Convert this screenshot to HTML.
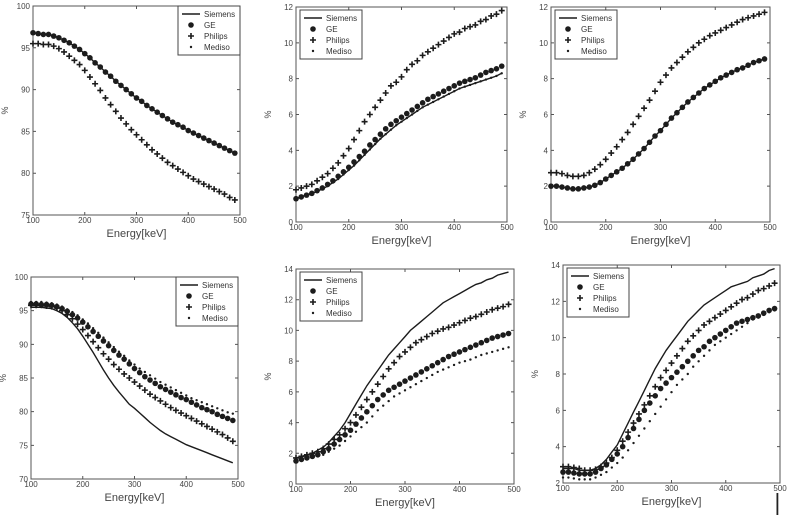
<!DOCTYPE html>
<html><head><meta charset="utf-8"><style>
html,body{margin:0;padding:0;background:#fff;}
svg{display:block;font-family:"Liberation Sans",sans-serif;}
</style></head><body>
<svg id="fig" width="799" height="521" viewBox="0 0 799 521" xmlns="http://www.w3.org/2000/svg">
<rect x="776.5" y="493" width="1.8" height="22" fill="#222"/>
</svg>
<script>
const energies=[100,110,120,130,140,150,160,170,180,190,200,210,220,230,240,250,260,270,280,290,300,310,320,330,340,350,360,370,380,390,400,410,420,430,440,450,460,470,480,490];
const xTicks=[100,200,300,400,500];
// Panel 1
const p1GE=[96.8,96.7,96.6,96.6,96.4,96.2,95.9,95.6,95.2,94.8,94.3,93.8,93.2,92.7,92.1,91.6,91.0,90.5,90.0,89.5,89.0,88.6,88.1,87.7,87.3,86.9,86.5,86.1,85.8,85.5,85.1,84.8,84.5,84.2,83.9,83.6,83.3,83.0,82.7,82.4];
const p1Siemens=[96.8,96.7,96.6,96.6,96.4,96.2,95.9,95.6,95.2,94.8,94.3,93.8,93.2,92.7,92.1,91.6,91.0,90.5,90.0,89.5,89.0,88.6,88.1,87.7,87.3,86.9,86.5,86.1,85.8,85.5,85.1,84.8,84.5,84.2,83.9,83.6,83.3,83.0,82.7,82.4];
const p1Mediso=[96.8,96.7,96.6,96.6,96.4,96.2,95.9,95.6,95.2,94.8,94.3,93.8,93.2,92.7,92.1,91.6,91.0,90.5,90.0,89.5,89.0,88.6,88.1,87.7,87.3,86.9,86.5,86.1,85.8,85.5,85.1,84.8,84.5,84.2,83.9,83.6,83.3,83.0,82.7,82.4];
const p1Philips=[95.5,95.5,95.4,95.4,95.2,94.9,94.5,94.0,93.5,93.0,92.3,91.5,90.7,89.9,89.0,88.2,87.4,86.6,85.9,85.2,84.6,84.0,83.4,82.8,82.3,81.8,81.3,80.9,80.5,80.1,79.7,79.3,79.0,78.7,78.4,78.1,77.8,77.5,77.1,76.8];
const p1YTicks=[75,80,85,90,95,100];
// Panel 2
const p2Philips=[1.8,1.9,2.0,2.1,2.3,2.5,2.7,3.0,3.3,3.7,4.1,4.6,5.1,5.6,6.0,6.4,6.8,7.2,7.6,7.8,8.1,8.5,8.8,9.0,9.3,9.5,9.7,9.9,10.1,10.3,10.5,10.6,10.8,10.9,11.0,11.2,11.3,11.5,11.6,11.8];
const p2GE=[1.3,1.4,1.5,1.6,1.75,1.9,2.1,2.3,2.55,2.8,3.05,3.35,3.65,3.95,4.3,4.6,4.9,5.2,5.45,5.65,5.85,6.05,6.25,6.45,6.65,6.85,7.0,7.15,7.3,7.45,7.6,7.75,7.85,7.95,8.05,8.2,8.35,8.45,8.55,8.7];
const p2Siemens=[1.3,1.4,1.5,1.6,1.7,1.85,2.0,2.2,2.4,2.65,2.9,3.15,3.45,3.75,4.05,4.35,4.65,4.9,5.15,5.4,5.6,5.8,6.0,6.2,6.4,6.55,6.7,6.85,7.0,7.15,7.3,7.45,7.55,7.65,7.75,7.85,7.95,8.05,8.15,8.3];
const p2Mediso=[1.3,1.4,1.5,1.6,1.7,1.85,2.0,2.2,2.4,2.65,2.9,3.15,3.45,3.75,4.05,4.35,4.65,4.9,5.15,5.4,5.6,5.8,6.0,6.2,6.4,6.55,6.7,6.85,7.0,7.15,7.3,7.45,7.55,7.65,7.75,7.85,7.95,8.05,8.15,8.3];
const p2YTicks=[0,2,4,6,8,10,12];
// Panel 3
const p3Philips=[2.75,2.75,2.7,2.6,2.55,2.55,2.6,2.75,2.95,3.2,3.5,3.85,4.2,4.6,5.0,5.45,5.9,6.35,6.8,7.3,7.8,8.2,8.6,8.9,9.2,9.5,9.75,10.0,10.2,10.4,10.55,10.7,10.85,11.0,11.15,11.3,11.4,11.5,11.6,11.7];
const p3GE=[2.0,2.0,1.95,1.9,1.85,1.85,1.9,1.95,2.05,2.2,2.4,2.6,2.8,3.0,3.25,3.5,3.8,4.1,4.45,4.8,5.1,5.45,5.8,6.1,6.4,6.7,6.95,7.2,7.45,7.65,7.85,8.05,8.2,8.35,8.5,8.6,8.75,8.9,9.0,9.1];
const p3Siemens=[2.0,2.0,1.95,1.9,1.85,1.85,1.9,1.95,2.05,2.2,2.4,2.6,2.8,3.0,3.25,3.5,3.8,4.1,4.45,4.8,5.1,5.45,5.8,6.1,6.4,6.7,6.95,7.2,7.45,7.65,7.85,8.05,8.2,8.35,8.5,8.6,8.75,8.9,9.0,9.1];
const p3Mediso=[2.0,2.0,1.95,1.9,1.85,1.85,1.9,1.95,2.05,2.2,2.4,2.6,2.8,3.0,3.25,3.5,3.8,4.1,4.45,4.8,5.1,5.45,5.8,6.1,6.4,6.7,6.95,7.2,7.45,7.65,7.85,8.05,8.2,8.35,8.5,8.6,8.75,8.9,9.0,9.1];
const p3YTicks=[0,2,4,6,8,10,12];
// Panel 4
const p4Siemens=[95.5,95.5,95.5,95.4,95.3,95.0,94.6,94.0,93.2,92.3,91.2,90.0,88.8,87.5,86.2,85.0,83.9,82.9,82.0,81.1,80.5,79.8,79.1,78.4,77.8,77.2,76.7,76.3,75.9,75.5,75.1,74.8,74.5,74.2,73.9,73.6,73.3,73.0,72.7,72.4];
const p4Philips=[95.8,95.8,95.8,95.7,95.6,95.4,95.0,94.4,93.8,93.0,92.2,91.3,90.4,89.5,88.6,87.8,87.0,86.3,85.6,85.0,84.4,83.8,83.2,82.6,82.1,81.6,81.1,80.6,80.2,79.8,79.4,79.0,78.6,78.2,77.8,77.4,77.0,76.6,76.1,75.6];
const p4GE=[96.0,96.0,95.9,95.9,95.8,95.6,95.3,94.9,94.4,93.9,93.3,92.6,91.9,91.2,90.5,89.8,89.1,88.4,87.8,87.1,86.4,85.8,85.2,84.7,84.2,83.7,83.3,82.9,82.5,82.1,81.8,81.4,81.0,80.6,80.3,80.0,79.6,79.3,79.0,78.7];
const p4Mediso=[96.3,96.3,96.3,96.2,96.1,95.9,95.6,95.2,94.8,94.3,93.7,93.1,92.4,91.7,91.0,90.3,89.6,88.9,88.3,87.6,87.0,86.4,85.9,85.4,84.9,84.4,84.0,83.6,83.2,82.8,82.4,82.0,81.7,81.4,81.1,80.8,80.5,80.2,79.9,79.7];
const p4YTicks=[70,75,80,85,90,95,100];
// Panel 5
const p5Siemens=[1.7,1.8,1.9,2.0,2.2,2.4,2.7,3.1,3.5,4.0,4.6,5.2,5.8,6.4,6.9,7.4,7.9,8.4,8.8,9.2,9.6,10.0,10.3,10.6,10.9,11.2,11.5,11.8,12.0,12.2,12.4,12.6,12.8,13.0,13.1,13.3,13.4,13.6,13.7,13.8];
const p5Philips=[1.7,1.8,1.9,2.0,2.1,2.3,2.6,2.9,3.2,3.6,4.0,4.5,5.0,5.5,6.0,6.5,7.0,7.5,7.9,8.3,8.6,8.9,9.2,9.4,9.6,9.8,9.95,10.1,10.2,10.35,10.5,10.65,10.8,10.9,11.05,11.2,11.35,11.45,11.55,11.7];
const p5GE=[1.5,1.6,1.7,1.8,1.9,2.1,2.3,2.6,2.9,3.2,3.5,3.9,4.3,4.7,5.1,5.5,5.8,6.1,6.3,6.5,6.7,6.9,7.1,7.3,7.5,7.7,7.9,8.1,8.3,8.45,8.6,8.75,8.9,9.05,9.2,9.35,9.5,9.6,9.7,9.8];
const p5Mediso=[1.5,1.55,1.6,1.7,1.8,1.9,2.1,2.3,2.5,2.8,3.1,3.4,3.7,4.0,4.4,4.8,5.1,5.4,5.7,5.9,6.1,6.3,6.5,6.7,6.9,7.1,7.3,7.45,7.6,7.75,7.9,8.0,8.1,8.25,8.4,8.5,8.6,8.7,8.8,8.9];
const p5YTicks=[0,2,4,6,8,10,12,14];
// Panel 6
const p6Siemens=[2.8,2.8,2.8,2.7,2.7,2.7,2.8,3.0,3.3,3.7,4.1,4.7,5.3,5.9,6.5,7.1,7.7,8.3,8.8,9.3,9.7,10.1,10.5,10.9,11.2,11.5,11.8,12.0,12.2,12.4,12.6,12.8,12.9,13.0,13.1,13.3,13.4,13.5,13.7,13.8];
const p6Philips=[2.9,2.9,2.85,2.8,2.7,2.7,2.75,2.9,3.1,3.4,3.8,4.3,4.8,5.3,5.8,6.3,6.8,7.3,7.8,8.2,8.6,9.0,9.4,9.8,10.1,10.4,10.7,10.9,11.1,11.3,11.5,11.7,11.9,12.1,12.2,12.4,12.6,12.7,12.85,13.0];
const p6GE=[2.6,2.6,2.55,2.5,2.5,2.5,2.6,2.8,3.0,3.3,3.6,4.0,4.5,5.0,5.5,6.0,6.4,6.8,7.2,7.5,7.8,8.1,8.4,8.7,9.0,9.3,9.5,9.8,10.0,10.2,10.4,10.6,10.8,10.9,11.0,11.1,11.2,11.35,11.5,11.6];
const p6Mediso=[2.3,2.3,2.25,2.2,2.2,2.2,2.3,2.45,2.6,2.85,3.1,3.4,3.8,4.2,4.6,5.0,5.4,5.8,6.2,6.6,7.0,7.4,7.7,8.0,8.4,8.7,9.0,9.3,9.6,9.8,10.0,10.2,10.4,10.6,10.8,11.0,11.1,11.25,11.4,11.5];
const p6YTicks=[2,4,6,8,10,12,14];

const NS='http://www.w3.org/2000/svg';
const svg=document.getElementById('fig');
function mk(tag,attrs,parent){const e=document.createElementNS(NS,tag);for(const k in attrs)e.setAttribute(k,attrs[k]);(parent||svg).appendChild(e);return e;}

const panels=[
 {id:'p1',L:33,R:240,T:6,B:215,yT:p1YTicks,leg:'right',s:{Siemens:p1Siemens,GE:p1GE,Philips:p1Philips,Mediso:p1Mediso}},
 {id:'p2',L:296,R:507,T:7,B:222,yT:p2YTicks,leg:'left',s:{Siemens:p2Siemens,GE:p2GE,Philips:p2Philips,Mediso:p2Mediso}},
 {id:'p3',L:551,R:770,T:7,B:222,yT:p3YTicks,leg:'left',s:{Siemens:p3Siemens,GE:p3GE,Philips:p3Philips,Mediso:p3Mediso}},
 {id:'p4',L:31,R:238,T:277,B:479,yT:p4YTicks,leg:'right',s:{Siemens:p4Siemens,GE:p4GE,Philips:p4Philips,Mediso:p4Mediso}},
 {id:'p5',L:296,R:514,T:269,B:484,yT:p5YTicks,leg:'left',s:{Siemens:p5Siemens,GE:p5GE,Philips:p5Philips,Mediso:p5Mediso}},
 {id:'p6',L:563,R:780,T:265,B:483,yT:p6YTicks,leg:'left',s:{Siemens:p6Siemens,GE:p6GE,Philips:p6Philips,Mediso:p6Mediso}}
];
const C='#1c1c1c';
function marker(g,kind,x,y){
 if(kind==='GE'){const c=mk('circle',{cx:x,cy:y,r:2.8,fill:C},g);}
 else if(kind==='Philips'){const p=mk('path',{d:`M${x-3},${y}h6M${x},${y-3}v6`,stroke:C,'stroke-width':1.6,fill:'none'},g);}
 else if(kind==='Mediso'){const c=mk('circle',{cx:x,cy:y,r:1.2,fill:C},g);}
}
panels.forEach(P=>{
 const g=mk('g',{});
 
 
 const y0=P.yT[0],y1=P.yT[P.yT.length-1];
 const sx=v=>P.L+(v-100)/400*(P.R-P.L);
 const sy=v=>P.B-(v-y0)/(y1-y0)*(P.B-P.T);
 const fr=mk('rect',{x:P.L,y:P.T,width:P.R-P.L,height:P.B-P.T,fill:'none',stroke:'#555','stroke-width':1},g);
 
 
 xTicks.forEach(t=>{
  const x=sx(t);
  mk('path',{d:`M${x},${P.B}v-3M${x},${P.T}v3`,stroke:'#555'},g);
  const tx=mk('text',{x:x,y:P.B+8,'font-size':8,fill:'#444','text-anchor':'middle'},g);
  tx.textContent=t;
  
  
 });
 P.yT.forEach(t=>{
  const y=sy(t);
  mk('path',{d:`M${P.L},${y}h3M${P.R},${y}h-3`,stroke:'#555'},g);
  const tx=mk('text',{x:P.L-3,y:y+3,'font-size':8,fill:'#444','text-anchor':'end'},g);
  tx.textContent=t;
  
  
 });
 const xl=mk('text',{x:(P.L+P.R)/2,y:P.B+22,'font-size':11,fill:'#444','text-anchor':'middle'},g);
 xl.textContent='Energy[keV]';
 
 
 const ycx=P.L-25,ycy=(P.T+P.B)/2;
 const yl=mk('text',{x:ycx,y:ycy,'font-size':9,fill:'#444','text-anchor':'middle',transform:`rotate(-90 ${ycx} ${ycy})`},g);
 yl.textContent='%';
 
 
 const sie=P.s.Siemens;
 const d=sie.map((v,i)=>(i?'L':'M')+sx(energies[i]).toFixed(1)+','+sy(v).toFixed(1)).join('');
 const ln=mk('path',{d:d,stroke:C,'stroke-width':1.4,fill:'none'},g);
 
 
 ['Mediso','GE','Philips'].forEach(k=>{
  P.s[k].forEach((v,i)=>marker(g,k,sx(energies[i]),sy(v)));
 });
 const lw=62,lh=49;
 const lx=P.leg==='right'?P.R-lw:P.L+4, ly=P.T+(P.leg==='right'?0:3);
 const lg=mk('g',{},g);
 
 
 mk('rect',{x:lx,y:ly,width:lw,height:lh,fill:'#fff',stroke:'#444','stroke-width':1},lg);
 ['Siemens','GE','Philips','Mediso'].forEach((k,i)=>{
  const yy=ly+8+i*11;
  if(k==='Siemens') mk('path',{d:`M${lx+4},${yy}h18`,stroke:C,'stroke-width':1.5},lg);
  else marker(lg,k,lx+13,yy);
  const t=mk('text',{x:lx+26,y:yy+3,'font-size':8,fill:'#333'},lg);
  t.textContent=k;
  
  
 });
});
</script>
</body></html>
